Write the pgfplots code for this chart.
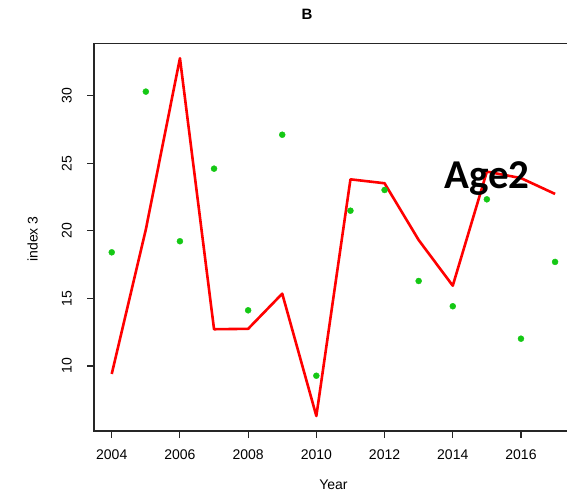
\documentclass[border=0pt]{standalone}
\usepackage{pgfplots}
\pgfplotsset{compat=1.18}
\usepackage{fontspec}
\setmainfont{Liberation Sans}
\newfontfamily\calibri{Carlito}
\definecolor{ptgreen}{RGB}{20,200,20}
\begin{document}
\begin{tikzpicture}
\path[use as bounding box, clip] (-94bp,-64bp) rectangle (473bp,431bp);
\begin{axis}[
  at={(0,0)}, anchor=south west,
  scale only axis, width=478.8bp, height=387.5bp,
  xmin=2003.48, xmax=2017.52, ymin=5.19, ymax=33.86,
  xtick={2004,2006,...,2016}, ytick={10,15,...,30},
  tick pos=left, tick align=outside, major tick length=7bp,
  axis line style={black!85, line width=1.1bp},
  every tick/.style={black!85, line width=1.1bp},
  /pgf/number format/assume math mode=true,
  /pgf/number format/1000 sep={},
  tick label style={font=\fontsize{14bp}{16bp}\selectfont, inner sep=0pt},
  xticklabel style={anchor=base, yshift=-21.3bp},
  yticklabel style={xshift=-15.3bp, rotate=90, anchor=base},
  label style={font=\fontsize{14bp}{16bp}\selectfont, inner sep=0pt},
  xlabel={Year},
  xlabel style={at={(axis description cs:0.5,-0.1505)}, anchor=base},
  ylabel={index 3},
  ylabel style={at={(axis description cs:-0.1176,0.4955)}, anchor=base, rotate=0},
  every axis title shift=0pt,
  title={B},
  title style={at={(axis description cs:0.4449,1.0625)}, anchor=base, font=\fontsize{15bp}{17bp}\selectfont\bfseries, inner sep=0pt},
  clip=false,
]
\addplot[red, line width=2.6bp, line join=round, mark=none] coordinates {
  (2004,9.41) (2005,20.1) (2006,32.77) (2007,12.72) (2008,12.75) (2009,15.35)
  (2010,6.30) (2011,23.81) (2012,23.52) (2013,19.32) (2014,15.94) (2015,24.38)
  (2016,23.9) (2017,22.73)
};
\addplot[only marks, mark=*, mark size=3bp, ptgreen, mark options={draw=ptgreen, fill=ptgreen}] coordinates {
  (2004,18.41) (2005,30.30) (2006,19.23) (2007,24.60) (2008,14.12) (2009,27.11)
  (2010,9.28) (2011,21.49) (2012,23.02) (2013,16.29) (2014,14.42) (2015,22.33)
  (2016,12.02) (2017,17.70)
};
\node[anchor=base, inner sep=0pt, font=\calibri\bfseries\fontsize{41bp}{45bp}\selectfont] at (axis cs:2015.0,23.15) {Age2};
\end{axis}
\end{tikzpicture}
\end{document}
